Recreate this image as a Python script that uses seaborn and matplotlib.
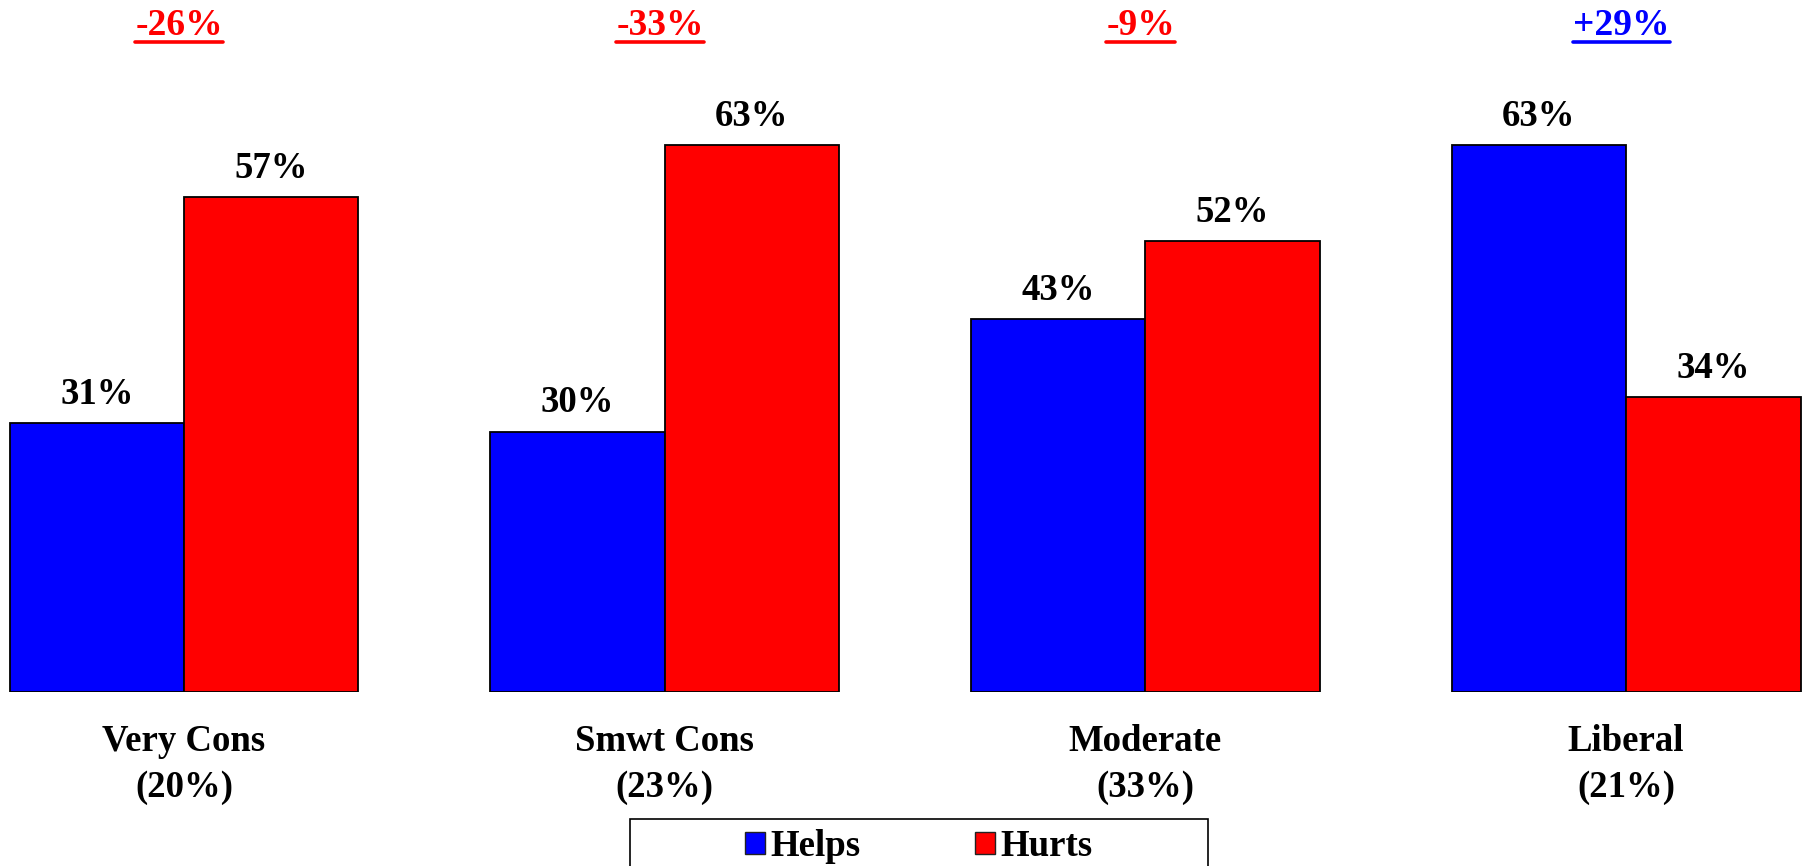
import pandas as pd
import matplotlib.pyplot as plt
import seaborn as sns
from matplotlib.patches import Patch, Rectangle
from matplotlib.lines import Line2D

# data
groups = ["Very Cons", "Smwt Cons", "Moderate", "Liberal"]
shares = ["20%", "23%", "33%", "21%"]
helps = [31, 30, 43, 63]
hurts = [57, 63, 52, 34]
series = ["Helps", "Hurts"]
colors = {"Helps": "#0000FF", "Hurts": "#FF0000"}

df = pd.DataFrame({
    "group": groups * 2,
    "series": ["Helps"] * 4 + ["Hurts"] * 4,
    "value": helps + hurts,
})

sns.set_style("white")
plt.rcParams["font.family"] = ["Liberation Serif", "DejaVu Serif"]
plt.rcParams["font.weight"] = "bold"
plt.rcParams["text.color"] = "black"
plt.rcParams["xtick.color"] = "black"

W, H = 1804, 866
fig = plt.figure(figsize=(W / 100, H / 100), dpi=100)
base = 692
px_per_pct = 8.68
ax = fig.add_axes([0, (H - base) / H, 1, base / H])

sns.barplot(data=df, x="group", y="value", hue="series", order=groups,
            hue_order=series, palette=colors, width=0.726, saturation=1,
            edgecolor="black", linewidth=1.3, legend=False, ax=ax)

ax.set_ylim(0, base / px_per_pct)
ax.set_xlim(-184 / 480.7, (W - 184) / 480.7)
for s in ax.spines.values():
    s.set_visible(False)
ax.set_yticks([])
ax.set_xlabel("")
ax.set_ylabel("")
ax.set_xticks(range(len(groups)))
ax.set_xticklabels([f"{g}\n({s})" for g, s in zip(groups, shares)],
                   fontsize=26.5, fontweight="bold", linespacing=1.42,
                   color="black")
ax.tick_params(axis="x", length=0, pad=23)

# value labels above the bars
for cont, vals in zip(ax.containers, [helps, hurts]):
    ax.bar_label(cont, labels=[f"{v}%" for v in vals], padding=8,
                 fontsize=26.5, fontweight="bold", color="black")

# net difference on top, underlined
net_texts = []
for i, (h, r) in enumerate(zip(helps, hurts)):
    d = h - r
    c = "#0000FF" if d > 0 else "#FF0000"
    t = ax.text(i - 0.01, (base - 35) / px_per_pct, f"{d:+d}%", ha="center",
                va="baseline", fontsize=27, fontweight="bold", color=c)
    net_texts.append((t, c))

# legend in a box clipped at the bottom
handles = [Patch(facecolor=colors[s], edgecolor="#222222", linewidth=1) for s in series]
fig.legend(handles, series, ncol=2, loc="upper center",
           bbox_to_anchor=(919 / W, 1 - 811 / H), frameon=False,
           fontsize=26.5, handlelength=0.55, handleheight=0.55,
           handletextpad=0.15, columnspacing=3.1, borderpad=0)
fig.patches.append(Rectangle((630 / W, -0.05), 578 / W, 0.05 + (H - 819) / H,
                             transform=fig.transFigure, fill=False,
                             edgecolor="black", linewidth=1.2))

fig.canvas.draw()
r = fig.canvas.get_renderer()
for t, c in net_texts:
    bb = t.get_window_extent(renderer=r)
    y = H - 41.5
    fig.lines.append(Line2D([bb.x0 / W, bb.x1 / W], [y / H, y / H],
                            transform=fig.transFigure, color=c, linewidth=2.6))

fig.savefig("out.png", dpi=100)
